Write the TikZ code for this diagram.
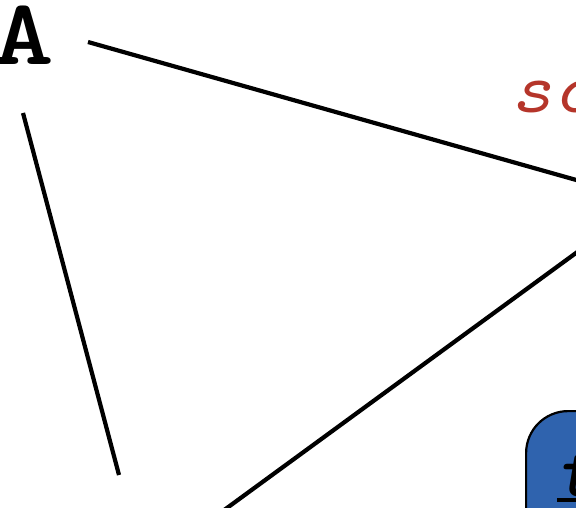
\documentclass[tikz,border=0pt]{standalone}
\definecolor{boxblue}{RGB}{47,99,174}
\definecolor{labelred}{RGB}{181,53,42}
\tikzset{
  conn/.style={line width=4.2pt, line cap=butt},
  bigletter/.style={inner sep=0pt, font=\ttfamily\bfseries\fontsize{94}{94}\selectfont},
  redlabel/.style={inner sep=0pt, text=labelred, font=\ttfamily\itshape\fontsize{72}{72}\selectfont},
  bluebox/.style={draw=black, line width=2.2pt, fill=boxblue, rounded corners=42pt, inner sep=0pt},
  boxtext/.style={inner sep=0pt, font=\ttfamily\bfseries\itshape\fontsize{74}{74}\selectfont}
}
\begin{document}
\begin{tikzpicture}[x=1pt,y=-1pt]
\useasboundingbox (0,0) rectangle (576,508);
\clip (0,0) rectangle (576,508);
% label A
\node[bigletter, anchor=base east] (A) at (54,65) {\scalebox{1.25}[1]{A}};
% red label
\node[redlabel, anchor=base west] (sc) at (510,113) {\scalebox{1.1}[1]{sc}};
% blue box (extends beyond the frame)
\node[bluebox, anchor=north west, minimum width=220pt, minimum height=180pt] (T) at (525,410) {};
\node[boxtext, anchor=base west] (t) at (557,496) {t};
\draw[line width=3.4pt] ([yshift=-4pt]t.base west) -- ++(80,0);
% off-frame ends
\coordinate (a1) at (88,42);
\coordinate (b1) at (640,198);
\coordinate (a2) at (23,113);
\coordinate (b2) at (119,475);
\coordinate (a3) at (640,206.2);
\coordinate (b3) at (190,535);
\draw[conn] (a1) -- (b1);
\draw[conn] (a2) -- (b2);
\draw[conn] (a3) -- (b3);
\end{tikzpicture}
\end{document}
